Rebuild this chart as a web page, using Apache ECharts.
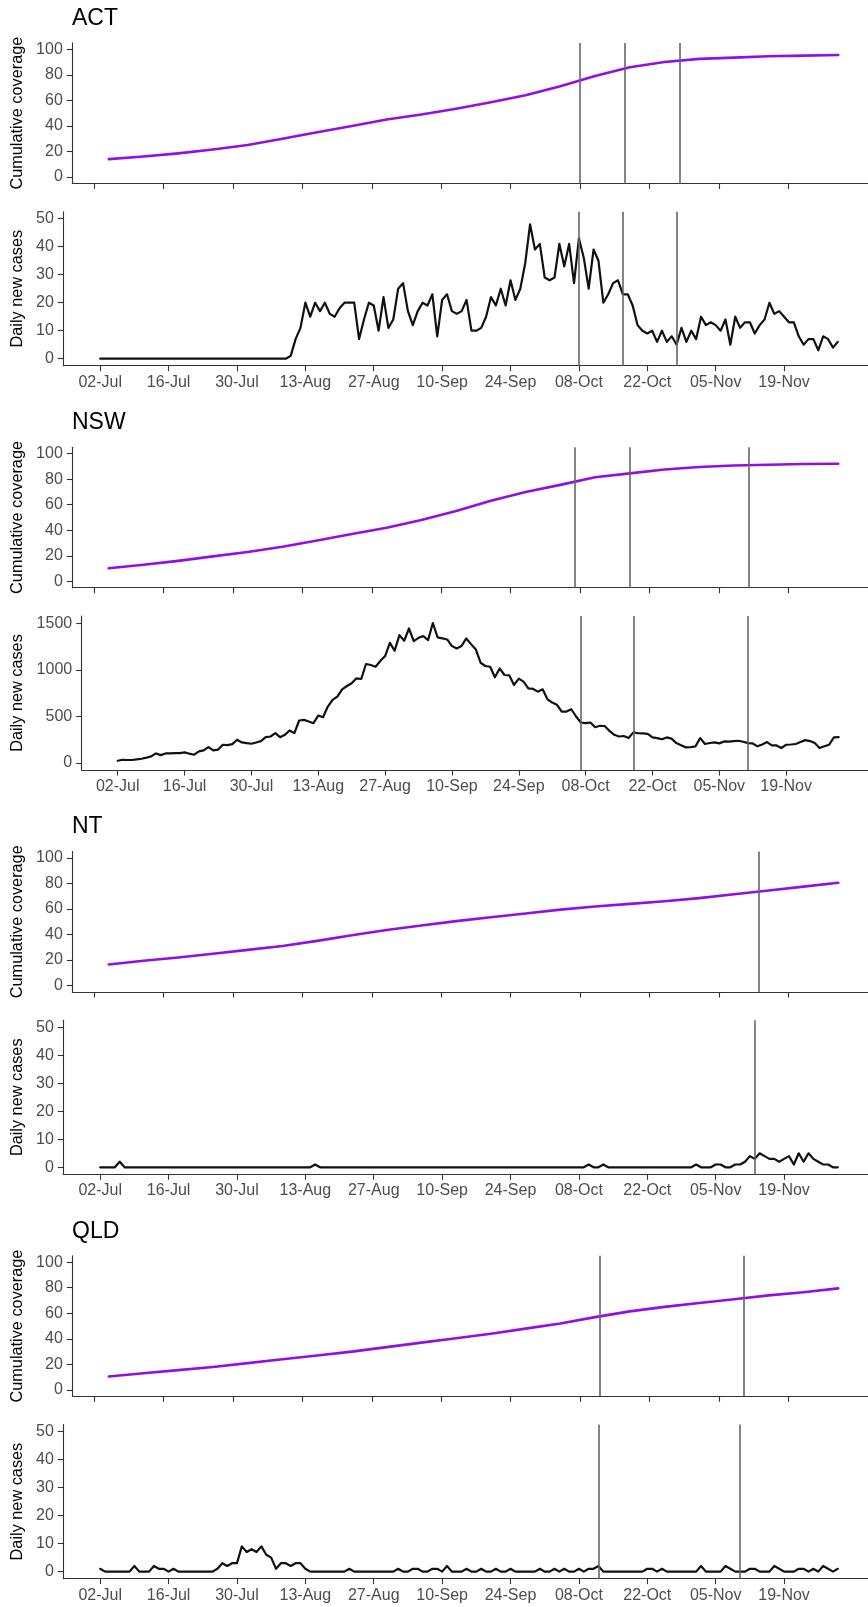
<!DOCTYPE html>
<html>
<head>
<meta charset="utf-8">
<script src="https://cdn.jsdelivr.net/npm/echarts@6/dist/echarts.min.js"></script>
<style>
html,body{margin:0;padding:0;background:#fff;}
#c{width:868px;height:1607px;}
</style>
</head>
<body>
<div id="c"></div>
<script>
// ---------------- DATA ----------------
const stateNames = ["ACT", "NSW", "NT", "QLD"];

// x-axis tick positions (days since 02-Jul) and their labels
const tickDays = [0, 14, 28, 42, 56, 70, 84, 98, 112, 126, 140];
const tickLabels = ["02-Jul", "16-Jul", "30-Jul", "13-Aug", "27-Aug", "10-Sep", "24-Sep", "08-Oct", "22-Oct", "05-Nov", "19-Nov"];

// cumulative coverage: weekly observations (days since 02-Jul)
const covDays = [3, 10, 17, 24, 31, 38, 45, 52, 59, 66, 73, 80, 87, 94, 101, 108, 115, 122, 129, 136, 143, 150];
const covACT = [14, 16, 18.5, 21.5, 25, 30, 35, 40, 45, 49, 53.5, 58.5, 64, 71, 79, 86, 90, 92.5, 93.5, 94.5, 95, 95.5];
const covNSW = [10.2, 13, 16, 19.5, 23, 27, 32, 37, 42, 48, 55, 63, 70, 75.5, 81.5, 84.5, 87.5, 89.5, 90.7, 91.3, 91.8, 92.1];
const covNT  = [16.5, 19.5, 22, 25, 28, 31, 35, 39.5, 43.5, 47, 50.5, 53.5, 56.5, 59.5, 62, 64, 66, 68.5, 71.5, 74.5, 77.5, 80.5];
const covQLD = [10.5, 13, 15.5, 18, 21, 24, 27, 30, 33.5, 37, 40.5, 44, 48, 52, 57, 61.5, 65, 68, 71, 74, 76.5, 79.5];

// daily new cases, one value per day from 02-Jul (day 0) to 30-Nov (day 151)
const casesACT = [
  0,0,0,0,0,0,0,0,0,0, 0,0,0,0,0,0,0,0,0,0, 0,0,0,0,0,0,0,0,0,0, 0,0,0,0,0,0,0,0,0,1,
  7,11,20,15,20,17,20,16,15,18, 20,20,20,7,14,20,19,10,22,11, 14,25,27,17,12,17,20,19,23,8,
  21,23,17,16,17,21,10,10,11,15, 22,19,25,19,28,21,25,34,48,39, 41,29,28,29,41,33,41,27,43,36,
  25,39,35,20,23,27,28,23,23,19, 12,10,9,10,6,10,6,8,5,11, 6,10,7,15,12,13,12,10,14,5,
  15,11,13,13,9,12,14,20,16,17, 15,13,13,8,5,7,7,3,8,7, 4,6
];
const casesNSW = [
  24,35,32,32,39,46,57,71,103,85, 103,103,107,107,114,100,89,125,135,171,
  135,143,196,193,203,250,221,214,207,221, 235,278,285,321,278,303,350,321,457,464,
  446,428,510,492,607,678,714,792,828,857, 910,903,1064,1053,1035,1096,1150,1292,1207,1375,
  1314,1446,1310,1346,1364,1321,1505,1350,1339,1328, 1257,1232,1257,1339,1278,1221,1078,1043,1035,921,
  1017,946,943,839,907,875,803,796,767,792, 685,650,625,553,553,578,500,435,428,435,
  385,400,398,345,303,285,290,268,329,320, 318,314,275,268,255,275,262,214,190,168,
  170,179,268,204,215,222,211,232,230,236, 239,228,214,210,179,200,225,189,189,161,
  196,199,204,225,246,236,214,161,180,196, 275,279
];
const casesNT = [
  0,0,0,0,2,0,0,0,0,0, 0,0,0,0,0,0,0,0,0,0, 0,0,0,0,0,0,0,0,0,0, 0,0,0,0,0,0,0,0,0,0,
  0,0,0,0,1,0,0,0,0,0, 0,0,0,0,0,0,0,0,0,0, 0,0,0,0,0,0,0,0,0,0, 0,0,0,0,0,0,0,0,0,0,
  0,0,0,0,0,0,0,0,0,0, 0,0,0,0,0,0,0,0,0,0, 1,0,0,1,0,0,0,0,0,0, 0,0,0,0,0,0,0,0,0,0,
  0,0,1,0,0,0,1,1,0,0, 1,1,2,4,3,5,4,3,3,2, 3,4,1,5,2,5,3,2,1,1, 0,0
];
const casesQLD = [
  1,0,0,0,0,0,0,2,0,0, 0,2,1,1,0,1,0,0,0,0, 0,0,0,0,1,3,2,3,3,9, 7,8,7,9,6,5,1,3,3,2,
  3,3,1,0,0,0,0,0,0,0, 0,1,0,0,0,0,0,0,0,0, 0,1,0,0,1,1,0,0,1,1, 0,2,0,0,0,1,0,0,1,0,
  0,1,0,0,1,0,0,0,0,0, 1,0,0,1,0,1,0,0,1,0, 1,1,2,0,0,0,0,0,0,0, 0,0,1,1,0,1,0,0,0,0,
  0,0,0,2,0,0,0,0,2,1, 0,0,0,1,1,0,0,0,2,1, 0,0,0,1,1,0,1,0,2,1, 0,1
];

// dates (days since 02-Jul) of the vertical reference lines
const vlinesACT = [98, 107, 118];
const vlinesNSW = [97, 108, 132];
const vlinesNT  = [134];
const vlinesQLD = [102, 131];

// ---------------- CHART ----------------
const covData = [covACT, covNSW, covNT, covQLD];
const casesData = [casesACT, casesNSW, casesNT, casesQLD];
const vlineData = [vlinesACT, vlinesNSW, vlinesNT, vlinesQLD];

const FONT = '"Liberation Sans", Arial, Helvetica, sans-serif';
const BLOCK = 404.3;
const RIGHT_EDGE = 874.7;
const COV_LEFT = 72.3;
const CASES_LEFT = [63.3, 81.7, 63.3, 63.3];
const TITLE_CX = 29;
const TICK_FS = 16;

function expand(lo, hi) { const r = hi - lo; return [lo - 0.05 * r, hi + 0.05 * r]; }

const grids = [], xAxes = [], yAxes = [], series = [], graphics = [];

const covX = expand(Math.min(...covDays), Math.max(...covDays));

function xAxisBase(gi, range, showLabels) {
  return {
    type: 'value', gridIndex: gi, min: range[0], max: range[1],
    axisLine: { show: true, onZero: false, lineStyle: { color: '#333', width: 1.1 } },
    axisTick: { show: true, length: 5.5, lineStyle: { color: '#333', width: 1.1 }, customValues: tickDays },
    axisLabel: showLabels ? {
      show: true, customValues: tickDays, color: '#4d4d4d', fontSize: TICK_FS, fontFamily: FONT, margin: 8.5,
      formatter: v => { const i = tickDays.indexOf(Math.round(v)); return i >= 0 ? tickLabels[i] : ''; }
    } : { show: false },
    splitLine: { show: false }
  };
}

function yAxisBase(gi, min, max, ticks, name, gap) {
  return {
    type: 'value', gridIndex: gi, min: min, max: max,
    name: name, nameLocation: 'middle', nameGap: gap, nameRotate: 90,
    nameTextStyle: { color: '#000', fontSize: 16.3, fontFamily: FONT },
    axisLine: { show: true, onZero: false, lineStyle: { color: '#333', width: 1.1 } },
    axisTick: { show: true, length: 5.5, lineStyle: { color: '#333', width: 1.1 }, customValues: ticks },
    axisLabel: {
      show: true, customValues: ticks, color: '#4d4d4d', fontSize: TICK_FS, fontFamily: FONT, margin: 9.5,
      formatter: v => String(Math.round(v))
    },
    splitLine: { show: false }
  };
}

function vlineMark(days) {
  return {
    silent: true, symbol: ['none', 'none'], animation: false,
    label: { show: false },
    lineStyle: { color: '#666', width: 1.6, type: 'solid' },
    emphasis: { disabled: true },
    data: days.map(d => ({ xAxis: d }))
  };
}

stateNames.forEach((name, k) => {
  const off = k * BLOCK;
  // title
  graphics.push({
    type: 'text', x: 72, y: 18.3 + off,
    style: { text: name, fontSize: 23, fontFamily: FONT, fill: '#000', verticalAlign: 'middle', align: 'left' }
  });

  // coverage panel
  const gC = grids.length;
  grids.push({ left: COV_LEFT, top: 42.9 + off, width: RIGHT_EDGE - COV_LEFT, height: 140.5, containLabel: false, outerBoundsMode: 'none' });
  xAxes.push(xAxisBase(gC, covX, false));
  yAxes.push(yAxisBase(gC, -5, 105, [0, 20, 40, 60, 80, 100], 'Cumulative coverage', COV_LEFT - TITLE_CX));
  series.push({
    type: 'line', xAxisIndex: gC, yAxisIndex: gC, showSymbol: false, symbol: 'none', animation: false,
    lineStyle: { color: '#8f0fe6', width: 2.6, join: 'round', cap: 'round' },
    data: covDays.map((d, i) => [d, covData[k][i]]),
    markLine: vlineMark(vlineData[k]), z: 2
  });

  // cases panel
  const vals = casesData[k];
  const gD = grids.length;
  const left = CASES_LEFT[k];
  grids.push({ left: left, top: 211.7 + off, width: RIGHT_EDGE - left, height: 154, containLabel: false, outerBoundsMode: 'none' });
  xAxes.push(xAxisBase(gD, expand(0, vals.length - 1), true));
  let yr, yt;
  if (name === 'NSW') { yr = expand(0, Math.max(...vals)); yt = [0, 500, 1000, 1500]; }
  else { yr = [-2.5, 52.5]; yt = [0, 10, 20, 30, 40, 50]; }
  yAxes.push(yAxisBase(gD, yr[0], yr[1], yt, 'Daily new cases', left - TITLE_CX));
  series.push({
    type: 'line', xAxisIndex: gD, yAxisIndex: gD, showSymbol: false, symbol: 'none', animation: false,
    lineStyle: { color: '#111', width: 2.2, join: 'round', cap: 'round' },
    data: vals.map((v, i) => [i, v]),
    markLine: vlineMark(vlineData[k]), z: 2
  });
});

const chart = echarts.init(document.getElementById('c'), null, { renderer: 'canvas' });
chart.setOption({
  backgroundColor: '#fff',
  animation: false,
  textStyle: { fontFamily: FONT },
  grid: grids, xAxis: xAxes, yAxis: yAxes, series: series,
  graphic: graphics
});
</script>
</body>
</html>
